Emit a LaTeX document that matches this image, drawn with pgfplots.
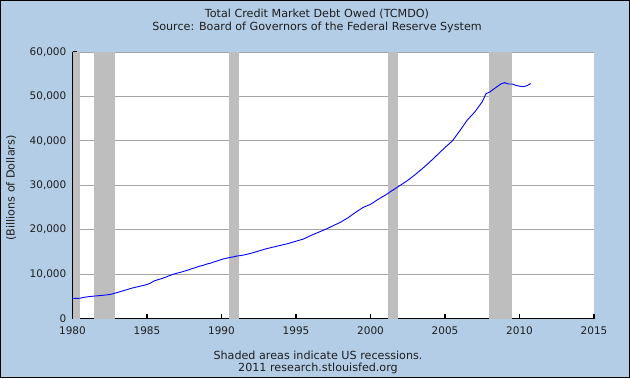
\documentclass[border=0pt]{standalone}
\usepackage{pgfplots}
\pgfplotsset{compat=1.18}
\usepackage{fontspec}
\setmainfont{DejaVu Sans}
\definecolor{bgblue}{RGB}{179,205,230}
\definecolor{recgray}{RGB}{190,190,190}
\definecolor{gridgray}{RGB}{165,165,165}
\definecolor{txt}{RGB}{30,30,30}
\pgfplotsset{
  layers/fredlayers/.define layer set={
    axis background, axis grid, main, axis ticks, axis lines, axis tick labels, axis descriptions, axis foreground
  }{},
}
\begin{document}
\begin{tikzpicture}[x=1bp,y=1bp]
\fill[bgblue] (0,0) rectangle (630,378);
\begin{axis}[
  set layers=fredlayers,
  at={(72.5bp,59.5bp)}, anchor=south west,
  scale only axis, width=521.5bp, height=266.5bp,
  xmin=1980, xmax=2015, ymin=0, ymax=60000,
  xtick={1980,1985,...,2015},
  ytick={0,10000,...,60000},
  axis background/.style={fill=white},
  axis x line*=bottom, axis y line*=left,
  axis line style={black, line width=1.3bp, -},
  xtick align=inside, ytick align=inside,
  major tick length=5bp,
  tick style={black, line width=1.2bp},
  ymajorgrids, grid style={gridgray, line width=0.8bp},
  scaled y ticks=false,
  /pgf/number format/assume math mode=true,
  x tick label style={/pgf/number format/1000 sep=, font=\fontsize{10.5}{12}\selectfont, text=txt, inner sep=0pt, anchor=north, yshift=-8bp},
  y tick label style={/pgf/number format/1000 sep={,}, font=\fontsize{10.5}{12}\selectfont, text=txt, inner sep=0pt, anchor=east, xshift=-6bp},
  clip=false,
]
\addplot[draw=none, fill=recgray] coordinates {(1980.0,0)(1980.5,0)(1980.5,60000)(1980.0,60000)} -- cycle;
\addplot[draw=none, fill=recgray] coordinates {(1981.45,0)(1982.85,0)(1982.85,60000)(1981.45,60000)} -- cycle;
\addplot[draw=none, fill=recgray] coordinates {(1990.5,0)(1991.2,0)(1991.2,60000)(1990.5,60000)} -- cycle;
\addplot[draw=none, fill=recgray] coordinates {(2001.17,0)(2001.87,0)(2001.87,60000)(2001.17,60000)} -- cycle;
\addplot[draw=none, fill=recgray] coordinates {(2007.93,0)(2009.47,0)(2009.47,60000)(2007.93,60000)} -- cycle;
\addplot[blue, line width=0.9bp, mark=none] coordinates {
(1980.00,4500)(1980.25,4530)(1980.50,4560)(1980.75,4750)(1981.00,4880)(1981.25,4980)(1981.50,5060)(1981.75,5140)
(1982.00,5220)(1982.25,5300)(1982.50,5400)(1982.75,5600)(1983.00,5850)(1983.25,6100)(1983.50,6350)(1983.75,6600)
(1984.00,6850)(1984.25,7050)(1984.50,7250)(1984.75,7450)(1985.00,7650)(1985.25,8000)(1985.50,8500)(1985.75,8750)
(1986.00,9000)(1986.25,9300)(1986.50,9650)(1986.75,9950)(1987.00,10200)(1987.25,10400)(1987.50,10650)(1987.75,10900)
(1988.00,11200)(1988.25,11450)(1988.50,11750)(1988.75,11950)(1989.00,12250)(1989.25,12450)(1989.50,12750)(1989.75,13000)
(1990.00,13300)(1990.25,13500)(1990.50,13700)(1990.75,13850)(1991.00,14050)(1991.25,14150)(1991.50,14300)(1991.75,14500)
(1992.00,14700)(1992.50,15200)(1993.00,15700)(1993.50,16100)(1994.00,16500)(1994.50,16900)(1995.00,17400)(1995.50,17900)
(1996.00,18700)(1996.50,19400)(1997.00,20100)(1997.50,20900)(1998.00,21700)(1998.50,22700)(1999.00,23900)(1999.50,25000)
(2000.00,25700)(2000.50,26800)(2001.00,27800)(2001.50,28900)(2002.00,30000)(2002.50,31100)(2003.00,32400)(2003.50,33800)
(2004.00,35300)(2004.50,36900)(2005.00,38500)(2005.50,40000)(2006.00,42300)(2006.50,44700)(2007.00,46500)(2007.50,48800)
(2007.75,50600)(2008.00,51000)(2008.25,51600)(2008.50,52200)(2008.75,52800)(2009.00,53100)(2009.25,52800)(2009.50,52800)
(2009.75,52500)(2010.00,52300)(2010.25,52200)(2010.50,52400)(2010.75,52900)
};
\end{axis}
\begin{scope}[font=\fontsize{11.2}{13}\selectfont, text=txt]
\node at (317,364) {Total Credit Market Debt Owed (TCMDO)};
\node at (317,351) {Source: Board of Governors of the Federal Reserve System};
\node at (318,23) {Shaded areas indicate US recessions.};
\node at (318,10) {2011 research.stlouisfed.org};
\node[rotate=90] at (11,190) {(Billions of Dollars)};
\end{scope}
\draw[black, line width=1bp] (0.5,0.5) rectangle (629.5,377.5);
\end{tikzpicture}
\end{document}
